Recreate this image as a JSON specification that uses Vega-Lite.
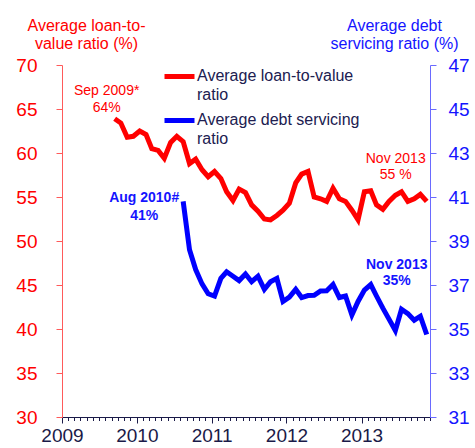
{
  "$schema": "https://vega.github.io/schema/vega-lite/v6.json",
  "width": 368,
  "height": 352,
  "autosize": "none",
  "padding": {"left": 62, "top": 65, "right": 45, "bottom": 31},
  "config": {
    "view": {"stroke": null},
    "font": "Liberation Sans",
    "axis": {"grid": false, "titleFontWeight": "normal"}
  },
  "data": {
    "values": [
      {"series": "LTV", "date": "2009-09-15", "value": 63.9},
      {"series": "LTV", "date": "2009-10-15", "value": 63.4},
      {"series": "LTV", "date": "2009-11-15", "value": 61.8},
      {"series": "LTV", "date": "2009-12-15", "value": 61.9},
      {"series": "LTV", "date": "2010-01-15", "value": 62.5},
      {"series": "LTV", "date": "2010-02-15", "value": 62.1},
      {"series": "LTV", "date": "2010-03-15", "value": 60.5},
      {"series": "LTV", "date": "2010-04-15", "value": 60.3},
      {"series": "LTV", "date": "2010-05-15", "value": 59.4},
      {"series": "LTV", "date": "2010-06-15", "value": 61.2},
      {"series": "LTV", "date": "2010-07-15", "value": 61.9},
      {"series": "LTV", "date": "2010-08-15", "value": 61.3},
      {"series": "LTV", "date": "2010-09-15", "value": 58.8},
      {"series": "LTV", "date": "2010-10-15", "value": 59.3},
      {"series": "LTV", "date": "2010-11-15", "value": 58.1},
      {"series": "LTV", "date": "2010-12-15", "value": 57.3},
      {"series": "LTV", "date": "2011-01-15", "value": 57.9},
      {"series": "LTV", "date": "2011-02-15", "value": 57.1},
      {"series": "LTV", "date": "2011-03-15", "value": 55.6},
      {"series": "LTV", "date": "2011-04-15", "value": 54.6},
      {"series": "LTV", "date": "2011-05-15", "value": 55.9},
      {"series": "LTV", "date": "2011-06-15", "value": 55.5},
      {"series": "LTV", "date": "2011-07-15", "value": 54.1},
      {"series": "LTV", "date": "2011-08-15", "value": 53.4},
      {"series": "LTV", "date": "2011-09-15", "value": 52.5},
      {"series": "LTV", "date": "2011-10-15", "value": 52.4},
      {"series": "LTV", "date": "2011-11-15", "value": 52.9},
      {"series": "LTV", "date": "2011-12-15", "value": 53.5},
      {"series": "LTV", "date": "2012-01-15", "value": 54.3},
      {"series": "LTV", "date": "2012-02-15", "value": 56.6},
      {"series": "LTV", "date": "2012-03-15", "value": 57.6},
      {"series": "LTV", "date": "2012-04-15", "value": 57.9},
      {"series": "LTV", "date": "2012-05-15", "value": 55.0},
      {"series": "LTV", "date": "2012-06-15", "value": 54.8},
      {"series": "LTV", "date": "2012-07-15", "value": 54.5},
      {"series": "LTV", "date": "2012-08-15", "value": 56.0},
      {"series": "LTV", "date": "2012-09-15", "value": 54.8},
      {"series": "LTV", "date": "2012-10-15", "value": 54.5},
      {"series": "LTV", "date": "2012-11-15", "value": 53.5},
      {"series": "LTV", "date": "2012-12-15", "value": 52.4},
      {"series": "LTV", "date": "2013-01-15", "value": 55.6},
      {"series": "LTV", "date": "2013-02-15", "value": 55.7},
      {"series": "LTV", "date": "2013-03-15", "value": 54.1},
      {"series": "LTV", "date": "2013-04-15", "value": 53.6},
      {"series": "LTV", "date": "2013-05-15", "value": 54.5},
      {"series": "LTV", "date": "2013-06-15", "value": 55.2},
      {"series": "LTV", "date": "2013-07-15", "value": 55.6},
      {"series": "LTV", "date": "2013-08-15", "value": 54.5},
      {"series": "LTV", "date": "2013-09-15", "value": 54.8},
      {"series": "LTV", "date": "2013-10-15", "value": 55.3},
      {"series": "LTV", "date": "2013-11-15", "value": 54.5},
      {"series": "DSR", "date": "2010-08-15", "value": 40.8},
      {"series": "DSR", "date": "2010-09-15", "value": 38.6},
      {"series": "DSR", "date": "2010-10-15", "value": 37.7},
      {"series": "DSR", "date": "2010-11-15", "value": 37.05},
      {"series": "DSR", "date": "2010-12-15", "value": 36.6},
      {"series": "DSR", "date": "2011-01-15", "value": 36.5},
      {"series": "DSR", "date": "2011-02-15", "value": 37.3},
      {"series": "DSR", "date": "2011-03-15", "value": 37.6},
      {"series": "DSR", "date": "2011-04-15", "value": 37.4},
      {"series": "DSR", "date": "2011-05-15", "value": 37.2},
      {"series": "DSR", "date": "2011-06-15", "value": 37.5},
      {"series": "DSR", "date": "2011-07-15", "value": 37.15},
      {"series": "DSR", "date": "2011-08-15", "value": 37.4},
      {"series": "DSR", "date": "2011-09-15", "value": 36.8},
      {"series": "DSR", "date": "2011-10-15", "value": 37.15},
      {"series": "DSR", "date": "2011-11-15", "value": 37.3},
      {"series": "DSR", "date": "2011-12-15", "value": 36.25},
      {"series": "DSR", "date": "2012-01-15", "value": 36.45},
      {"series": "DSR", "date": "2012-02-15", "value": 36.8},
      {"series": "DSR", "date": "2012-03-15", "value": 36.43},
      {"series": "DSR", "date": "2012-04-15", "value": 36.52},
      {"series": "DSR", "date": "2012-05-15", "value": 36.53},
      {"series": "DSR", "date": "2012-06-15", "value": 36.73},
      {"series": "DSR", "date": "2012-07-15", "value": 36.74},
      {"series": "DSR", "date": "2012-08-15", "value": 37.02},
      {"series": "DSR", "date": "2012-09-15", "value": 36.43},
      {"series": "DSR", "date": "2012-10-15", "value": 36.5},
      {"series": "DSR", "date": "2012-11-15", "value": 35.64},
      {"series": "DSR", "date": "2012-12-15", "value": 36.25},
      {"series": "DSR", "date": "2013-01-15", "value": 36.77},
      {"series": "DSR", "date": "2013-02-15", "value": 37.02},
      {"series": "DSR", "date": "2013-03-15", "value": 36.5},
      {"series": "DSR", "date": "2013-04-15", "value": 35.95},
      {"series": "DSR", "date": "2013-05-15", "value": 35.45},
      {"series": "DSR", "date": "2013-06-15", "value": 34.93},
      {"series": "DSR", "date": "2013-07-15", "value": 35.9},
      {"series": "DSR", "date": "2013-08-15", "value": 35.7},
      {"series": "DSR", "date": "2013-09-15", "value": 35.4},
      {"series": "DSR", "date": "2013-10-15", "value": 35.58},
      {"series": "DSR", "date": "2013-11-15", "value": 34.75}
    ]
  },
  "encoding": {
    "x": {
      "field": "date",
      "type": "temporal",
      "scale": {
        "type": "utc",
        "nice": false,
        "domain": [
          {"year": 2009, "month": 1, "date": 1, "utc": true},
          {"year": 2013, "month": 12, "date": 1, "utc": true}
        ]
      },
      "axis": {
        "title": null,
        "orient": "bottom",
        "tickCount": {"interval": "month", "step": 1},
        "labelExpr": "utcmonth(datum.value) == 0 ? utcFormat(datum.value, '%Y') : ''",
        "labelOverlap": false,
        "labelFlush": false,
        "tickSize": {"condition": {"test": "utcmonth(datum.value) == 0", "value": 6}, "value": 3.5},
        "tickColor": "#1a1a48",
        "domainColor": "#1a1a48",
        "labelColor": "#1a1a48",
        "labelFontSize": 19,
        "labelPadding": 3
      }
    }
  },
  "layer": [
    {
      "transform": [{"filter": "datum.series == 'LTV'"}],
      "encoding": {
        "y": {
          "field": "value",
          "type": "quantitative",
          "scale": {"domain": [30, 70], "zero": false, "nice": false},
          "axis": {
            "orient": "left",
            "values": [30, 35, 40, 45, 50, 55, 60, 65, 70],
            "title": ["Average loan-to-", "value ratio (%)"],
            "titleAngle": 0,
            "titleAlign": "center",
            "titleBaseline": "alphabetic",
            "titleX": 24,
            "titleY": -35,
            "titleLineHeight": 18,
            "titleFontSize": 16,
            "titleColor": "#ff0000",
            "labelColor": "#ff0000",
            "labelFontSize": 19,
            "labelPadding": 19,
            "tickSize": 6,
            "tickColor": "#ff5a5a",
            "domainColor": "#ff5a5a"
          }
        }
      },
      "layer": [
        {
          "mark": {"type": "line", "strokeWidth": 5},
          "encoding": {
            "color": {
              "field": "series",
              "type": "nominal",
              "scale": {"domain": ["LTV", "DSR"], "range": ["#ff0000", "#0000ff"]},
              "legend": {
                "orient": "none",
                "legendX": 100,
                "legendY": -6,
                "title": null,
                "padding": 0,
                "symbolType": "stroke",
                "symbolStrokeWidth": 5,
                "symbolSize": 900,
                "labelExpr": "datum.value == 'LTV' ? ['Average loan-to-value', 'ratio'] : ['Average debt servicing', 'ratio']",
                "labelFontSize": 16,
                "labelColor": "#202050",
                "labelBaseline": "middle",
                "labelOffset": 0,
                "labelLimit": 400,
                "rowPadding": -15,
                "encode": {"labels": {"update": {"dy": {"value": -1}, "lineHeight": {"value": 19}}}}
              }
            }
          }
        },
        {
          "transform": [{"filter": "utcyear(datum.date) == 2009 && utcmonth(datum.date) == 8"}],
          "mark": {"type": "text", "text": "Sep  2009*\n64%", "lineBreak": "\n", "align": "center", "baseline": "alphabetic", "dx": -8, "dy": -24, "fontSize": 14, "lineHeight": 17, "fill": "#ff0000"}
        },
        {
          "transform": [{"filter": "utcyear(datum.date) == 2013 && utcmonth(datum.date) == 10"}],
          "mark": {"type": "text", "text": "Nov 2013\n55 %", "lineBreak": "\n", "align": "center", "baseline": "alphabetic", "dx": -31, "dy": -38, "fontSize": 14, "lineHeight": 16, "fill": "#ff0000"}
        }
      ]
    },
    {
      "transform": [{"filter": "datum.series == 'DSR'"}],
      "encoding": {
        "y": {
          "field": "value",
          "type": "quantitative",
          "scale": {"domain": [31, 47], "zero": false, "nice": false},
          "axis": {
            "orient": "right",
            "values": [31, 33, 35, 37, 39, 41, 43, 45, 47],
            "title": ["Average debt", "servicing ratio (%)"],
            "titleAngle": 0,
            "titleAlign": "center",
            "titleBaseline": "alphabetic",
            "titleX": -36,
            "titleY": -35,
            "titleLineHeight": 18,
            "titleFontSize": 16,
            "titleColor": "#1414ff",
            "labelColor": "#1414ff",
            "labelFontSize": 19,
            "labelPadding": 12,
            "tickSize": 6,
            "tickColor": "#6a6aff",
            "domainColor": "#6a6aff"
          }
        }
      },
      "layer": [
        {
          "mark": {"type": "line", "strokeWidth": 5},
          "encoding": {
            "color": {"field": "series", "type": "nominal"}
          }
        },
        {
          "transform": [{"filter": "utcyear(datum.date) == 2010 && utcmonth(datum.date) == 7"}],
          "mark": {"type": "text", "text": "Aug 2010#\n41%", "lineBreak": "\n", "align": "center", "baseline": "alphabetic", "dx": -39, "dy": 1, "fontSize": 14, "fontWeight": "bold", "lineHeight": 18, "fill": "#1414ff"}
        },
        {
          "transform": [{"filter": "utcyear(datum.date) == 2013 && utcmonth(datum.date) == 10"}],
          "mark": {"type": "text", "text": "Nov 2013\n35%", "lineBreak": "\n", "align": "center", "baseline": "alphabetic", "dx": -30, "dy": -66, "fontSize": 14, "fontWeight": "bold", "lineHeight": 16, "fill": "#1414ff"}
        }
      ]
    }
  ],
  "resolve": {"scale": {"y": "independent"}}
}
